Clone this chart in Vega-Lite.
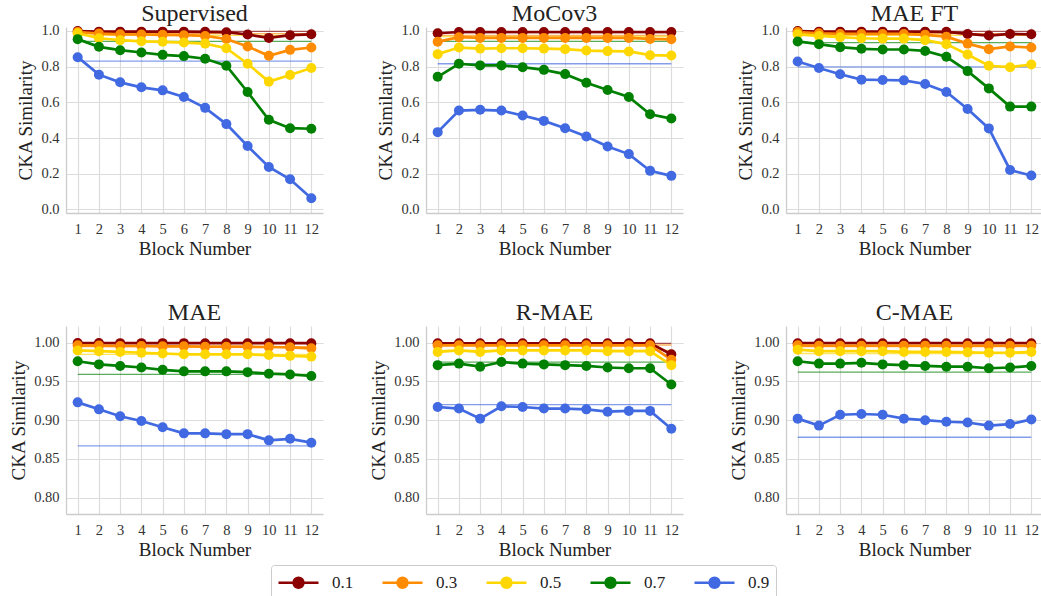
{
  "$schema": "https://vega.github.io/schema/vega-lite/v6.json",
  "background": "white",
  "padding": {"left": 9, "top": 2, "right": 0, "bottom": 0},
  "config": {
    "font": "Liberation Serif",
    "view": {"stroke": null},
    "axis": {"grid": true, "gridColor": "#dcdcdc", "gridWidth": 1.2, "domainColor": "#cccccc", "domainWidth": 1.3, "ticks": false, "labelFont": "Liberation Serif", "labelFontSize": 14.5, "labelColor": "#333333", "titleFont": "Liberation Serif", "titleFontSize": 19, "titleFontWeight": "normal", "titleColor": "#222222", "labelPadding": 7, "titlePadding": 5},
    "axisX": {"labelPadding": 9, "titlePadding": 4},
    "header": {"labelFont": "Liberation Serif", "labelFontSize": 24, "labelColor": "#222222", "labelPadding": 1},
    "legend": {"labelFont": "Liberation Serif", "labelFontSize": 17, "labelColor": "#222222"}
  },
  "datasets": {
    "cka": [
      {"model":"Supervised","ratio":"0.1","block":1,"cka":0.999},{"model":"Supervised","ratio":"0.1","block":2,"cka":0.996},{"model":"Supervised","ratio":"0.1","block":3,"cka":0.996},{"model":"Supervised","ratio":"0.1","block":4,"cka":0.996},{"model":"Supervised","ratio":"0.1","block":5,"cka":0.996},{"model":"Supervised","ratio":"0.1","block":6,"cka":0.996},{"model":"Supervised","ratio":"0.1","block":7,"cka":0.995},{"model":"Supervised","ratio":"0.1","block":8,"cka":0.993},{"model":"Supervised","ratio":"0.1","block":9,"cka":0.980},{"model":"Supervised","ratio":"0.1","block":10,"cka":0.961},{"model":"Supervised","ratio":"0.1","block":11,"cka":0.976},{"model":"Supervised","ratio":"0.1","block":12,"cka":0.981},
      {"model":"Supervised","ratio":"0.3","block":1,"cka":0.994},{"model":"Supervised","ratio":"0.3","block":2,"cka":0.985},{"model":"Supervised","ratio":"0.3","block":3,"cka":0.981},{"model":"Supervised","ratio":"0.3","block":4,"cka":0.980},{"model":"Supervised","ratio":"0.3","block":5,"cka":0.978},{"model":"Supervised","ratio":"0.3","block":6,"cka":0.976},{"model":"Supervised","ratio":"0.3","block":7,"cka":0.972},{"model":"Supervised","ratio":"0.3","block":8,"cka":0.955},{"model":"Supervised","ratio":"0.3","block":9,"cka":0.913},{"model":"Supervised","ratio":"0.3","block":10,"cka":0.861},{"model":"Supervised","ratio":"0.3","block":11,"cka":0.894},{"model":"Supervised","ratio":"0.3","block":12,"cka":0.907},
      {"model":"Supervised","ratio":"0.5","block":1,"cka":0.987},{"model":"Supervised","ratio":"0.5","block":2,"cka":0.959},{"model":"Supervised","ratio":"0.5","block":3,"cka":0.948},{"model":"Supervised","ratio":"0.5","block":4,"cka":0.942},{"model":"Supervised","ratio":"0.5","block":5,"cka":0.939},{"model":"Supervised","ratio":"0.5","block":6,"cka":0.935},{"model":"Supervised","ratio":"0.5","block":7,"cka":0.929},{"model":"Supervised","ratio":"0.5","block":8,"cka":0.903},{"model":"Supervised","ratio":"0.5","block":9,"cka":0.816},{"model":"Supervised","ratio":"0.5","block":10,"cka":0.716},{"model":"Supervised","ratio":"0.5","block":11,"cka":0.753},{"model":"Supervised","ratio":"0.5","block":12,"cka":0.792},
      {"model":"Supervised","ratio":"0.7","block":1,"cka":0.954},{"model":"Supervised","ratio":"0.7","block":2,"cka":0.911},{"model":"Supervised","ratio":"0.7","block":3,"cka":0.892},{"model":"Supervised","ratio":"0.7","block":4,"cka":0.879},{"model":"Supervised","ratio":"0.7","block":5,"cka":0.866},{"model":"Supervised","ratio":"0.7","block":6,"cka":0.859},{"model":"Supervised","ratio":"0.7","block":7,"cka":0.844},{"model":"Supervised","ratio":"0.7","block":8,"cka":0.805},{"model":"Supervised","ratio":"0.7","block":9,"cka":0.658},{"model":"Supervised","ratio":"0.7","block":10,"cka":0.502},{"model":"Supervised","ratio":"0.7","block":11,"cka":0.455},{"model":"Supervised","ratio":"0.7","block":12,"cka":0.452},
      {"model":"Supervised","ratio":"0.9","block":1,"cka":0.853},{"model":"Supervised","ratio":"0.9","block":2,"cka":0.755},{"model":"Supervised","ratio":"0.9","block":3,"cka":0.712},{"model":"Supervised","ratio":"0.9","block":4,"cka":0.684},{"model":"Supervised","ratio":"0.9","block":5,"cka":0.667},{"model":"Supervised","ratio":"0.9","block":6,"cka":0.630},{"model":"Supervised","ratio":"0.9","block":7,"cka":0.569},{"model":"Supervised","ratio":"0.9","block":8,"cka":0.478},{"model":"Supervised","ratio":"0.9","block":9,"cka":0.355},{"model":"Supervised","ratio":"0.9","block":10,"cka":0.238},{"model":"Supervised","ratio":"0.9","block":11,"cka":0.169},{"model":"Supervised","ratio":"0.9","block":12,"cka":0.063},

      {"model":"MoCov3","ratio":"0.1","block":1,"cka":0.987},{"model":"MoCov3","ratio":"0.1","block":2,"cka":0.994},{"model":"MoCov3","ratio":"0.1","block":3,"cka":0.994},{"model":"MoCov3","ratio":"0.1","block":4,"cka":0.994},{"model":"MoCov3","ratio":"0.1","block":5,"cka":0.994},{"model":"MoCov3","ratio":"0.1","block":6,"cka":0.994},{"model":"MoCov3","ratio":"0.1","block":7,"cka":0.994},{"model":"MoCov3","ratio":"0.1","block":8,"cka":0.994},{"model":"MoCov3","ratio":"0.1","block":9,"cka":0.994},{"model":"MoCov3","ratio":"0.1","block":10,"cka":0.994},{"model":"MoCov3","ratio":"0.1","block":11,"cka":0.994},{"model":"MoCov3","ratio":"0.1","block":12,"cka":0.994},
      {"model":"MoCov3","ratio":"0.3","block":1,"cka":0.939},{"model":"MoCov3","ratio":"0.3","block":2,"cka":0.965},{"model":"MoCov3","ratio":"0.3","block":3,"cka":0.961},{"model":"MoCov3","ratio":"0.3","block":4,"cka":0.961},{"model":"MoCov3","ratio":"0.3","block":5,"cka":0.961},{"model":"MoCov3","ratio":"0.3","block":6,"cka":0.961},{"model":"MoCov3","ratio":"0.3","block":7,"cka":0.961},{"model":"MoCov3","ratio":"0.3","block":8,"cka":0.961},{"model":"MoCov3","ratio":"0.3","block":9,"cka":0.961},{"model":"MoCov3","ratio":"0.3","block":10,"cka":0.961},{"model":"MoCov3","ratio":"0.3","block":11,"cka":0.955},{"model":"MoCov3","ratio":"0.3","block":12,"cka":0.953},
      {"model":"MoCov3","ratio":"0.5","block":1,"cka":0.870},{"model":"MoCov3","ratio":"0.5","block":2,"cka":0.907},{"model":"MoCov3","ratio":"0.5","block":3,"cka":0.901},{"model":"MoCov3","ratio":"0.5","block":4,"cka":0.903},{"model":"MoCov3","ratio":"0.5","block":5,"cka":0.903},{"model":"MoCov3","ratio":"0.5","block":6,"cka":0.901},{"model":"MoCov3","ratio":"0.5","block":7,"cka":0.898},{"model":"MoCov3","ratio":"0.5","block":8,"cka":0.890},{"model":"MoCov3","ratio":"0.5","block":9,"cka":0.887},{"model":"MoCov3","ratio":"0.5","block":10,"cka":0.885},{"model":"MoCov3","ratio":"0.5","block":11,"cka":0.864},{"model":"MoCov3","ratio":"0.5","block":12,"cka":0.862},
      {"model":"MoCov3","ratio":"0.7","block":1,"cka":0.743},{"model":"MoCov3","ratio":"0.7","block":2,"cka":0.816},{"model":"MoCov3","ratio":"0.7","block":3,"cka":0.807},{"model":"MoCov3","ratio":"0.7","block":4,"cka":0.807},{"model":"MoCov3","ratio":"0.7","block":5,"cka":0.797},{"model":"MoCov3","ratio":"0.7","block":6,"cka":0.782},{"model":"MoCov3","ratio":"0.7","block":7,"cka":0.758},{"model":"MoCov3","ratio":"0.7","block":8,"cka":0.710},{"model":"MoCov3","ratio":"0.7","block":9,"cka":0.669},{"model":"MoCov3","ratio":"0.7","block":10,"cka":0.630},{"model":"MoCov3","ratio":"0.7","block":11,"cka":0.533},{"model":"MoCov3","ratio":"0.7","block":12,"cka":0.509},
      {"model":"MoCov3","ratio":"0.9","block":1,"cka":0.433},{"model":"MoCov3","ratio":"0.9","block":2,"cka":0.554},{"model":"MoCov3","ratio":"0.9","block":3,"cka":0.558},{"model":"MoCov3","ratio":"0.9","block":4,"cka":0.554},{"model":"MoCov3","ratio":"0.9","block":5,"cka":0.526},{"model":"MoCov3","ratio":"0.9","block":6,"cka":0.496},{"model":"MoCov3","ratio":"0.9","block":7,"cka":0.455},{"model":"MoCov3","ratio":"0.9","block":8,"cka":0.409},{"model":"MoCov3","ratio":"0.9","block":9,"cka":0.353},{"model":"MoCov3","ratio":"0.9","block":10,"cka":0.310},{"model":"MoCov3","ratio":"0.9","block":11,"cka":0.216},{"model":"MoCov3","ratio":"0.9","block":12,"cka":0.188},

      {"model":"MAE FT","ratio":"0.1","block":1,"cka":0.999},{"model":"MAE FT","ratio":"0.1","block":2,"cka":0.996},{"model":"MAE FT","ratio":"0.1","block":3,"cka":0.996},{"model":"MAE FT","ratio":"0.1","block":4,"cka":0.996},{"model":"MAE FT","ratio":"0.1","block":5,"cka":0.996},{"model":"MAE FT","ratio":"0.1","block":6,"cka":0.996},{"model":"MAE FT","ratio":"0.1","block":7,"cka":0.996},{"model":"MAE FT","ratio":"0.1","block":8,"cka":0.995},{"model":"MAE FT","ratio":"0.1","block":9,"cka":0.983},{"model":"MAE FT","ratio":"0.1","block":10,"cka":0.974},{"model":"MAE FT","ratio":"0.1","block":11,"cka":0.983},{"model":"MAE FT","ratio":"0.1","block":12,"cka":0.981},
      {"model":"MAE FT","ratio":"0.3","block":1,"cka":0.994},{"model":"MAE FT","ratio":"0.3","block":2,"cka":0.987},{"model":"MAE FT","ratio":"0.3","block":3,"cka":0.983},{"model":"MAE FT","ratio":"0.3","block":4,"cka":0.983},{"model":"MAE FT","ratio":"0.3","block":5,"cka":0.983},{"model":"MAE FT","ratio":"0.3","block":6,"cka":0.983},{"model":"MAE FT","ratio":"0.3","block":7,"cka":0.978},{"model":"MAE FT","ratio":"0.3","block":8,"cka":0.968},{"model":"MAE FT","ratio":"0.3","block":9,"cka":0.929},{"model":"MAE FT","ratio":"0.3","block":10,"cka":0.898},{"model":"MAE FT","ratio":"0.3","block":11,"cka":0.913},{"model":"MAE FT","ratio":"0.3","block":12,"cka":0.907},
      {"model":"MAE FT","ratio":"0.5","block":1,"cka":0.981},{"model":"MAE FT","ratio":"0.5","block":2,"cka":0.972},{"model":"MAE FT","ratio":"0.5","block":3,"cka":0.965},{"model":"MAE FT","ratio":"0.5","block":4,"cka":0.959},{"model":"MAE FT","ratio":"0.5","block":5,"cka":0.957},{"model":"MAE FT","ratio":"0.5","block":6,"cka":0.957},{"model":"MAE FT","ratio":"0.5","block":7,"cka":0.948},{"model":"MAE FT","ratio":"0.5","block":8,"cka":0.926},{"model":"MAE FT","ratio":"0.5","block":9,"cka":0.868},{"model":"MAE FT","ratio":"0.5","block":10,"cka":0.805},{"model":"MAE FT","ratio":"0.5","block":11,"cka":0.797},{"model":"MAE FT","ratio":"0.5","block":12,"cka":0.812},
      {"model":"MAE FT","ratio":"0.7","block":1,"cka":0.941},{"model":"MAE FT","ratio":"0.7","block":2,"cka":0.926},{"model":"MAE FT","ratio":"0.7","block":3,"cka":0.909},{"model":"MAE FT","ratio":"0.7","block":4,"cka":0.900},{"model":"MAE FT","ratio":"0.7","block":5,"cka":0.896},{"model":"MAE FT","ratio":"0.7","block":6,"cka":0.896},{"model":"MAE FT","ratio":"0.7","block":7,"cka":0.888},{"model":"MAE FT","ratio":"0.7","block":8,"cka":0.855},{"model":"MAE FT","ratio":"0.7","block":9,"cka":0.775},{"model":"MAE FT","ratio":"0.7","block":10,"cka":0.678},{"model":"MAE FT","ratio":"0.7","block":11,"cka":0.576},{"model":"MAE FT","ratio":"0.7","block":12,"cka":0.576},
      {"model":"MAE FT","ratio":"0.9","block":1,"cka":0.829},{"model":"MAE FT","ratio":"0.9","block":2,"cka":0.792},{"model":"MAE FT","ratio":"0.9","block":3,"cka":0.757},{"model":"MAE FT","ratio":"0.9","block":4,"cka":0.727},{"model":"MAE FT","ratio":"0.9","block":5,"cka":0.725},{"model":"MAE FT","ratio":"0.9","block":6,"cka":0.723},{"model":"MAE FT","ratio":"0.9","block":7,"cka":0.703},{"model":"MAE FT","ratio":"0.9","block":8,"cka":0.658},{"model":"MAE FT","ratio":"0.9","block":9,"cka":0.563},{"model":"MAE FT","ratio":"0.9","block":10,"cka":0.454},{"model":"MAE FT","ratio":"0.9","block":11,"cka":0.221},{"model":"MAE FT","ratio":"0.9","block":12,"cka":0.190},

      {"model":"MAE","ratio":"0.1","block":1,"cka":0.9995},{"model":"MAE","ratio":"0.1","block":2,"cka":0.9995},{"model":"MAE","ratio":"0.1","block":3,"cka":0.9994},{"model":"MAE","ratio":"0.1","block":4,"cka":0.9994},{"model":"MAE","ratio":"0.1","block":5,"cka":0.9994},{"model":"MAE","ratio":"0.1","block":6,"cka":0.9994},{"model":"MAE","ratio":"0.1","block":7,"cka":0.9993},{"model":"MAE","ratio":"0.1","block":8,"cka":0.9993},{"model":"MAE","ratio":"0.1","block":9,"cka":0.9993},{"model":"MAE","ratio":"0.1","block":10,"cka":0.9993},{"model":"MAE","ratio":"0.1","block":11,"cka":0.9993},{"model":"MAE","ratio":"0.1","block":12,"cka":0.9993},
      {"model":"MAE","ratio":"0.3","block":1,"cka":0.9966},{"model":"MAE","ratio":"0.3","block":2,"cka":0.9962},{"model":"MAE","ratio":"0.3","block":3,"cka":0.9957},{"model":"MAE","ratio":"0.3","block":4,"cka":0.9957},{"model":"MAE","ratio":"0.3","block":5,"cka":0.9953},{"model":"MAE","ratio":"0.3","block":6,"cka":0.9953},{"model":"MAE","ratio":"0.3","block":7,"cka":0.9948},{"model":"MAE","ratio":"0.3","block":8,"cka":0.9948},{"model":"MAE","ratio":"0.3","block":9,"cka":0.9948},{"model":"MAE","ratio":"0.3","block":10,"cka":0.9944},{"model":"MAE","ratio":"0.3","block":11,"cka":0.9940},{"model":"MAE","ratio":"0.3","block":12,"cka":0.9927},
      {"model":"MAE","ratio":"0.5","block":1,"cka":0.990},{"model":"MAE","ratio":"0.5","block":2,"cka":0.989},{"model":"MAE","ratio":"0.5","block":3,"cka":0.988},{"model":"MAE","ratio":"0.5","block":4,"cka":0.987},{"model":"MAE","ratio":"0.5","block":5,"cka":0.986},{"model":"MAE","ratio":"0.5","block":6,"cka":0.985},{"model":"MAE","ratio":"0.5","block":7,"cka":0.985},{"model":"MAE","ratio":"0.5","block":8,"cka":0.985},{"model":"MAE","ratio":"0.5","block":9,"cka":0.985},{"model":"MAE","ratio":"0.5","block":10,"cka":0.984},{"model":"MAE","ratio":"0.5","block":11,"cka":0.983},{"model":"MAE","ratio":"0.5","block":12,"cka":0.982},
      {"model":"MAE","ratio":"0.7","block":1,"cka":0.976},{"model":"MAE","ratio":"0.7","block":2,"cka":0.972},{"model":"MAE","ratio":"0.7","block":3,"cka":0.970},{"model":"MAE","ratio":"0.7","block":4,"cka":0.968},{"model":"MAE","ratio":"0.7","block":5,"cka":0.965},{"model":"MAE","ratio":"0.7","block":6,"cka":0.963},{"model":"MAE","ratio":"0.7","block":7,"cka":0.963},{"model":"MAE","ratio":"0.7","block":8,"cka":0.963},{"model":"MAE","ratio":"0.7","block":9,"cka":0.962},{"model":"MAE","ratio":"0.7","block":10,"cka":0.960},{"model":"MAE","ratio":"0.7","block":11,"cka":0.959},{"model":"MAE","ratio":"0.7","block":12,"cka":0.957},
      {"model":"MAE","ratio":"0.9","block":1,"cka":0.923},{"model":"MAE","ratio":"0.9","block":2,"cka":0.914},{"model":"MAE","ratio":"0.9","block":3,"cka":0.905},{"model":"MAE","ratio":"0.9","block":4,"cka":0.899},{"model":"MAE","ratio":"0.9","block":5,"cka":0.891},{"model":"MAE","ratio":"0.9","block":6,"cka":0.883},{"model":"MAE","ratio":"0.9","block":7,"cka":0.883},{"model":"MAE","ratio":"0.9","block":8,"cka":0.882},{"model":"MAE","ratio":"0.9","block":9,"cka":0.882},{"model":"MAE","ratio":"0.9","block":10,"cka":0.874},{"model":"MAE","ratio":"0.9","block":11,"cka":0.876},{"model":"MAE","ratio":"0.9","block":12,"cka":0.871},

      {"model":"R-MAE","ratio":"0.1","block":1,"cka":0.9992},{"model":"R-MAE","ratio":"0.1","block":2,"cka":0.9992},{"model":"R-MAE","ratio":"0.1","block":3,"cka":0.9992},{"model":"R-MAE","ratio":"0.1","block":4,"cka":0.9992},{"model":"R-MAE","ratio":"0.1","block":5,"cka":0.9992},{"model":"R-MAE","ratio":"0.1","block":6,"cka":0.9992},{"model":"R-MAE","ratio":"0.1","block":7,"cka":0.9992},{"model":"R-MAE","ratio":"0.1","block":8,"cka":0.9992},{"model":"R-MAE","ratio":"0.1","block":9,"cka":0.9992},{"model":"R-MAE","ratio":"0.1","block":10,"cka":0.9992},{"model":"R-MAE","ratio":"0.1","block":11,"cka":0.9992},{"model":"R-MAE","ratio":"0.1","block":12,"cka":0.985},
      {"model":"R-MAE","ratio":"0.3","block":1,"cka":0.9966},{"model":"R-MAE","ratio":"0.3","block":2,"cka":0.9966},{"model":"R-MAE","ratio":"0.3","block":3,"cka":0.9966},{"model":"R-MAE","ratio":"0.3","block":4,"cka":0.9966},{"model":"R-MAE","ratio":"0.3","block":5,"cka":0.9966},{"model":"R-MAE","ratio":"0.3","block":6,"cka":0.9966},{"model":"R-MAE","ratio":"0.3","block":7,"cka":0.9966},{"model":"R-MAE","ratio":"0.3","block":8,"cka":0.9966},{"model":"R-MAE","ratio":"0.3","block":9,"cka":0.9966},{"model":"R-MAE","ratio":"0.3","block":10,"cka":0.9966},{"model":"R-MAE","ratio":"0.3","block":11,"cka":0.9966},{"model":"R-MAE","ratio":"0.3","block":12,"cka":0.978},
      {"model":"R-MAE","ratio":"0.5","block":1,"cka":0.988},{"model":"R-MAE","ratio":"0.5","block":2,"cka":0.990},{"model":"R-MAE","ratio":"0.5","block":3,"cka":0.988},{"model":"R-MAE","ratio":"0.5","block":4,"cka":0.990},{"model":"R-MAE","ratio":"0.5","block":5,"cka":0.990},{"model":"R-MAE","ratio":"0.5","block":6,"cka":0.990},{"model":"R-MAE","ratio":"0.5","block":7,"cka":0.990},{"model":"R-MAE","ratio":"0.5","block":8,"cka":0.990},{"model":"R-MAE","ratio":"0.5","block":9,"cka":0.989},{"model":"R-MAE","ratio":"0.5","block":10,"cka":0.989},{"model":"R-MAE","ratio":"0.5","block":11,"cka":0.989},{"model":"R-MAE","ratio":"0.5","block":12,"cka":0.971},
      {"model":"R-MAE","ratio":"0.7","block":1,"cka":0.971},{"model":"R-MAE","ratio":"0.7","block":2,"cka":0.973},{"model":"R-MAE","ratio":"0.7","block":3,"cka":0.969},{"model":"R-MAE","ratio":"0.7","block":4,"cka":0.975},{"model":"R-MAE","ratio":"0.7","block":5,"cka":0.973},{"model":"R-MAE","ratio":"0.7","block":6,"cka":0.972},{"model":"R-MAE","ratio":"0.7","block":7,"cka":0.971},{"model":"R-MAE","ratio":"0.7","block":8,"cka":0.970},{"model":"R-MAE","ratio":"0.7","block":9,"cka":0.968},{"model":"R-MAE","ratio":"0.7","block":10,"cka":0.967},{"model":"R-MAE","ratio":"0.7","block":11,"cka":0.967},{"model":"R-MAE","ratio":"0.7","block":12,"cka":0.946},
      {"model":"R-MAE","ratio":"0.9","block":1,"cka":0.917},{"model":"R-MAE","ratio":"0.9","block":2,"cka":0.915},{"model":"R-MAE","ratio":"0.9","block":3,"cka":0.902},{"model":"R-MAE","ratio":"0.9","block":4,"cka":0.918},{"model":"R-MAE","ratio":"0.9","block":5,"cka":0.917},{"model":"R-MAE","ratio":"0.9","block":6,"cka":0.915},{"model":"R-MAE","ratio":"0.9","block":7,"cka":0.915},{"model":"R-MAE","ratio":"0.9","block":8,"cka":0.914},{"model":"R-MAE","ratio":"0.9","block":9,"cka":0.911},{"model":"R-MAE","ratio":"0.9","block":10,"cka":0.912},{"model":"R-MAE","ratio":"0.9","block":11,"cka":0.912},{"model":"R-MAE","ratio":"0.9","block":12,"cka":0.889},

      {"model":"C-MAE","ratio":"0.1","block":1,"cka":0.9993},{"model":"C-MAE","ratio":"0.1","block":2,"cka":0.9993},{"model":"C-MAE","ratio":"0.1","block":3,"cka":0.9993},{"model":"C-MAE","ratio":"0.1","block":4,"cka":0.9993},{"model":"C-MAE","ratio":"0.1","block":5,"cka":0.9993},{"model":"C-MAE","ratio":"0.1","block":6,"cka":0.9993},{"model":"C-MAE","ratio":"0.1","block":7,"cka":0.9993},{"model":"C-MAE","ratio":"0.1","block":8,"cka":0.9993},{"model":"C-MAE","ratio":"0.1","block":9,"cka":0.9993},{"model":"C-MAE","ratio":"0.1","block":10,"cka":0.9993},{"model":"C-MAE","ratio":"0.1","block":11,"cka":0.9993},{"model":"C-MAE","ratio":"0.1","block":12,"cka":0.9993},
      {"model":"C-MAE","ratio":"0.3","block":1,"cka":0.9966},{"model":"C-MAE","ratio":"0.3","block":2,"cka":0.996},{"model":"C-MAE","ratio":"0.3","block":3,"cka":0.996},{"model":"C-MAE","ratio":"0.3","block":4,"cka":0.996},{"model":"C-MAE","ratio":"0.3","block":5,"cka":0.996},{"model":"C-MAE","ratio":"0.3","block":6,"cka":0.996},{"model":"C-MAE","ratio":"0.3","block":7,"cka":0.996},{"model":"C-MAE","ratio":"0.3","block":8,"cka":0.996},{"model":"C-MAE","ratio":"0.3","block":9,"cka":0.996},{"model":"C-MAE","ratio":"0.3","block":10,"cka":0.996},{"model":"C-MAE","ratio":"0.3","block":11,"cka":0.996},{"model":"C-MAE","ratio":"0.3","block":12,"cka":0.996},
      {"model":"C-MAE","ratio":"0.5","block":1,"cka":0.991},{"model":"C-MAE","ratio":"0.5","block":2,"cka":0.989},{"model":"C-MAE","ratio":"0.5","block":3,"cka":0.989},{"model":"C-MAE","ratio":"0.5","block":4,"cka":0.989},{"model":"C-MAE","ratio":"0.5","block":5,"cka":0.989},{"model":"C-MAE","ratio":"0.5","block":6,"cka":0.988},{"model":"C-MAE","ratio":"0.5","block":7,"cka":0.988},{"model":"C-MAE","ratio":"0.5","block":8,"cka":0.988},{"model":"C-MAE","ratio":"0.5","block":9,"cka":0.9875},{"model":"C-MAE","ratio":"0.5","block":10,"cka":0.987},{"model":"C-MAE","ratio":"0.5","block":11,"cka":0.987},{"model":"C-MAE","ratio":"0.5","block":12,"cka":0.988},
      {"model":"C-MAE","ratio":"0.7","block":1,"cka":0.976},{"model":"C-MAE","ratio":"0.7","block":2,"cka":0.973},{"model":"C-MAE","ratio":"0.7","block":3,"cka":0.973},{"model":"C-MAE","ratio":"0.7","block":4,"cka":0.974},{"model":"C-MAE","ratio":"0.7","block":5,"cka":0.972},{"model":"C-MAE","ratio":"0.7","block":6,"cka":0.971},{"model":"C-MAE","ratio":"0.7","block":7,"cka":0.970},{"model":"C-MAE","ratio":"0.7","block":8,"cka":0.969},{"model":"C-MAE","ratio":"0.7","block":9,"cka":0.969},{"model":"C-MAE","ratio":"0.7","block":10,"cka":0.967},{"model":"C-MAE","ratio":"0.7","block":11,"cka":0.968},{"model":"C-MAE","ratio":"0.7","block":12,"cka":0.970},
      {"model":"C-MAE","ratio":"0.9","block":1,"cka":0.902},{"model":"C-MAE","ratio":"0.9","block":2,"cka":0.893},{"model":"C-MAE","ratio":"0.9","block":3,"cka":0.907},{"model":"C-MAE","ratio":"0.9","block":4,"cka":0.908},{"model":"C-MAE","ratio":"0.9","block":5,"cka":0.907},{"model":"C-MAE","ratio":"0.9","block":6,"cka":0.902},{"model":"C-MAE","ratio":"0.9","block":7,"cka":0.900},{"model":"C-MAE","ratio":"0.9","block":8,"cka":0.898},{"model":"C-MAE","ratio":"0.9","block":9,"cka":0.897},{"model":"C-MAE","ratio":"0.9","block":10,"cka":0.893},{"model":"C-MAE","ratio":"0.9","block":11,"cka":0.895},{"model":"C-MAE","ratio":"0.9","block":12,"cka":0.901},

      {"model":"Supervised","ratio":"0.1","ref":0.998},{"model":"Supervised","ratio":"0.3","ref":0.985},{"model":"Supervised","ratio":"0.5","ref":0.975},{"model":"Supervised","ratio":"0.7","ref":0.942},{"model":"Supervised","ratio":"0.9","ref":0.831},
      {"model":"MoCov3","ratio":"0.1","ref":0.99},{"model":"MoCov3","ratio":"0.3","ref":0.975},{"model":"MoCov3","ratio":"0.5","ref":0.968},{"model":"MoCov3","ratio":"0.7","ref":0.942},{"model":"MoCov3","ratio":"0.9","ref":0.816},
      {"model":"MAE FT","ratio":"0.1","ref":0.998},{"model":"MAE FT","ratio":"0.3","ref":0.985},{"model":"MAE FT","ratio":"0.5","ref":0.975},{"model":"MAE FT","ratio":"0.7","ref":0.935},{"model":"MAE FT","ratio":"0.9","ref":0.799},
      {"model":"MAE","ratio":"0.1","ref":0.999},{"model":"MAE","ratio":"0.3","ref":0.995},{"model":"MAE","ratio":"0.5","ref":0.985},{"model":"MAE","ratio":"0.7","ref":0.959},{"model":"MAE","ratio":"0.9","ref":0.867},
      {"model":"R-MAE","ratio":"0.1","ref":0.999},{"model":"R-MAE","ratio":"0.3","ref":0.997},{"model":"R-MAE","ratio":"0.5","ref":0.99},{"model":"R-MAE","ratio":"0.7","ref":0.975},{"model":"R-MAE","ratio":"0.9","ref":0.920},
      {"model":"C-MAE","ratio":"0.1","ref":0.999},{"model":"C-MAE","ratio":"0.3","ref":0.995},{"model":"C-MAE","ratio":"0.5","ref":0.986},{"model":"C-MAE","ratio":"0.7","ref":0.962},{"model":"C-MAE","ratio":"0.9","ref":0.878}
    ]
  },
  "spacing": 42,
  "resolve": {"scale": {"color": "shared"}, "legend": {"color": "shared"}},
  "vconcat": [
    {
      "data": {"name": "cka"},
      "transform": [{"filter": {"field": "model", "oneOf": ["Supervised", "MoCov3", "MAE FT"]}}],
      "facet": {"column": {"field": "model", "type": "nominal", "sort": ["Supervised", "MoCov3", "MAE FT"], "title": null, "header": {"labelFont": "Liberation Serif", "labelFontSize": 24}}},
      "spacing": {"column": 103},
      "bounds": "flush",
      "resolve": {"axis": {"x": "independent", "y": "independent"}},
      "spec": {
        "width": 257,
        "height": 186,
        "layer": [
          {
            "transform": [{"filter": "isValid(datum.ref)"}],
            "mark": {"type": "rule", "strokeWidth": 1.3, "opacity": 0.65},
            "encoding": {
              "x": {"datum": 1, "type": "quantitative", "scale": {"domain": [0.45, 12.55], "nice": false, "zero": false}, "axis": {"values": [1,2,3,4,5,6,7,8,9,10,11,12], "format": "d", "title": "Block Number", "labelFont": "Liberation Serif", "titleFont": "Liberation Serif"}},
              "x2": {"datum": 12},
              "y": {"field": "ref", "type": "quantitative", "scale": {"domain": [-0.02, 1.022], "nice": false, "zero": false}, "axis": {"values": [0, 0.2, 0.4, 0.6, 0.8, 1.0], "format": ".1f", "title": "CKA Similarity", "labelFont": "Liberation Serif", "titleFont": "Liberation Serif"}},
              "color": {"field": "ratio", "type": "nominal", "scale": {"domain": ["0.1", "0.3", "0.5", "0.7", "0.9"], "range": ["#8b0000", "#ff8c00", "#ffd700", "#008000", "#4169e1"]},
                "legend": {"title": null, "orient": "none", "legendX": 205, "legendY": 538, "direction": "horizontal", "labelFont": "Liberation Serif", "symbolType": "M-2,0H2M0.5,0A0.5,0.5 0 1,1 -0.5,0A0.5,0.5 0 1,1 0.5,0Z", "symbolSize": 400, "symbolOffset": 10, "symbolStrokeWidth": 2.5, "labelOffset": 22, "columnPadding": 23, "padding": 6, "strokeColor": "#cccccc", "fillColor": "white", "cornerRadius": 3,
                  "encode": {"symbols": {"update": {"fill": {"scale": "color", "field": "value"}, "stroke": {"scale": "color", "field": "value"}, "opacity": {"value": 1}}}}}}
            }
          },
          {
            "transform": [{"filter": "isValid(datum.cka)"}],
            "mark": {"type": "line", "strokeWidth": 2.7, "point": {"filled": true, "size": 100, "opacity": 1}},
            "encoding": {
              "x": {"field": "block", "type": "quantitative", "scale": {"domain": [0.45, 12.55], "nice": false, "zero": false}, "axis": {"values": [1,2,3,4,5,6,7,8,9,10,11,12], "format": "d", "title": "Block Number", "labelFont": "Liberation Serif", "titleFont": "Liberation Serif"}},
              "y": {"field": "cka", "type": "quantitative", "scale": {"domain": [-0.02, 1.022], "nice": false, "zero": false}, "axis": {"values": [0, 0.2, 0.4, 0.6, 0.8, 1.0], "format": ".1f", "title": "CKA Similarity", "labelFont": "Liberation Serif", "titleFont": "Liberation Serif"}},
              "color": {"field": "ratio", "type": "nominal", "scale": {"domain": ["0.1", "0.3", "0.5", "0.7", "0.9"], "range": ["#8b0000", "#ff8c00", "#ffd700", "#008000", "#4169e1"]},
                "legend": {"title": null, "orient": "none", "legendX": 205, "legendY": 538, "direction": "horizontal", "labelFont": "Liberation Serif", "symbolType": "M-2,0H2M0.5,0A0.5,0.5 0 1,1 -0.5,0A0.5,0.5 0 1,1 0.5,0Z", "symbolSize": 400, "symbolOffset": 10, "symbolStrokeWidth": 2.5, "labelOffset": 22, "columnPadding": 23, "padding": 6, "strokeColor": "#cccccc", "fillColor": "white", "cornerRadius": 3,
                  "encode": {"symbols": {"update": {"fill": {"scale": "color", "field": "value"}, "stroke": {"scale": "color", "field": "value"}, "opacity": {"value": 1}}}}}}
            }
          }
        ]
      }
    },
    {
      "data": {"name": "cka"},
      "transform": [{"filter": {"field": "model", "oneOf": ["MAE", "R-MAE", "C-MAE"]}}],
      "facet": {"column": {"field": "model", "type": "nominal", "sort": ["MAE", "R-MAE", "C-MAE"], "title": null, "header": {"labelFont": "Liberation Serif", "labelFontSize": 24}}},
      "spacing": {"column": 103},
      "bounds": "flush",
      "resolve": {"axis": {"x": "independent", "y": "independent"}},
      "spec": {
        "width": 257,
        "height": 188,
        "layer": [
          {
            "transform": [{"filter": "isValid(datum.ref)"}],
            "mark": {"type": "rule", "strokeWidth": 1.3, "opacity": 0.65},
            "encoding": {
              "x": {"datum": 1, "type": "quantitative", "scale": {"domain": [0.45, 12.55], "nice": false, "zero": false}, "axis": {"values": [1,2,3,4,5,6,7,8,9,10,11,12], "format": "d", "title": "Block Number", "labelFont": "Liberation Serif", "titleFont": "Liberation Serif"}},
              "x2": {"datum": 12},
              "y": {"field": "ref", "type": "quantitative", "scale": {"domain": [0.779, 1.0215], "nice": false, "zero": false}, "axis": {"values": [0.8, 0.85, 0.9, 0.95, 1.0], "format": ".2f", "title": "CKA Similarity", "labelFont": "Liberation Serif", "titleFont": "Liberation Serif"}},
              "color": {"field": "ratio", "type": "nominal", "scale": {"domain": ["0.1", "0.3", "0.5", "0.7", "0.9"], "range": ["#8b0000", "#ff8c00", "#ffd700", "#008000", "#4169e1"]},
                "legend": {"title": null, "orient": "none", "legendX": 205, "legendY": 538, "direction": "horizontal", "labelFont": "Liberation Serif", "symbolType": "M-2,0H2M0.5,0A0.5,0.5 0 1,1 -0.5,0A0.5,0.5 0 1,1 0.5,0Z", "symbolSize": 400, "symbolOffset": 10, "symbolStrokeWidth": 2.5, "labelOffset": 22, "columnPadding": 23, "padding": 6, "strokeColor": "#cccccc", "fillColor": "white", "cornerRadius": 3,
                  "encode": {"symbols": {"update": {"fill": {"scale": "color", "field": "value"}, "stroke": {"scale": "color", "field": "value"}, "opacity": {"value": 1}}}}}}
            }
          },
          {
            "transform": [{"filter": "isValid(datum.cka)"}],
            "mark": {"type": "line", "strokeWidth": 2.7, "point": {"filled": true, "size": 100, "opacity": 1}},
            "encoding": {
              "x": {"field": "block", "type": "quantitative", "scale": {"domain": [0.45, 12.55], "nice": false, "zero": false}, "axis": {"values": [1,2,3,4,5,6,7,8,9,10,11,12], "format": "d", "title": "Block Number", "labelFont": "Liberation Serif", "titleFont": "Liberation Serif"}},
              "y": {"field": "cka", "type": "quantitative", "scale": {"domain": [0.779, 1.0215], "nice": false, "zero": false}, "axis": {"values": [0.8, 0.85, 0.9, 0.95, 1.0], "format": ".2f", "title": "CKA Similarity", "labelFont": "Liberation Serif", "titleFont": "Liberation Serif"}},
              "color": {"field": "ratio", "type": "nominal", "scale": {"domain": ["0.1", "0.3", "0.5", "0.7", "0.9"], "range": ["#8b0000", "#ff8c00", "#ffd700", "#008000", "#4169e1"]},
                "legend": {"title": null, "orient": "none", "legendX": 205, "legendY": 538, "direction": "horizontal", "labelFont": "Liberation Serif", "symbolType": "M-2,0H2M0.5,0A0.5,0.5 0 1,1 -0.5,0A0.5,0.5 0 1,1 0.5,0Z", "symbolSize": 400, "symbolOffset": 10, "symbolStrokeWidth": 2.5, "labelOffset": 22, "columnPadding": 23, "padding": 6, "strokeColor": "#cccccc", "fillColor": "white", "cornerRadius": 3,
                  "encode": {"symbols": {"update": {"fill": {"scale": "color", "field": "value"}, "stroke": {"scale": "color", "field": "value"}, "opacity": {"value": 1}}}}}}
            }
          }
        ]
      }
    }
  ]
}
